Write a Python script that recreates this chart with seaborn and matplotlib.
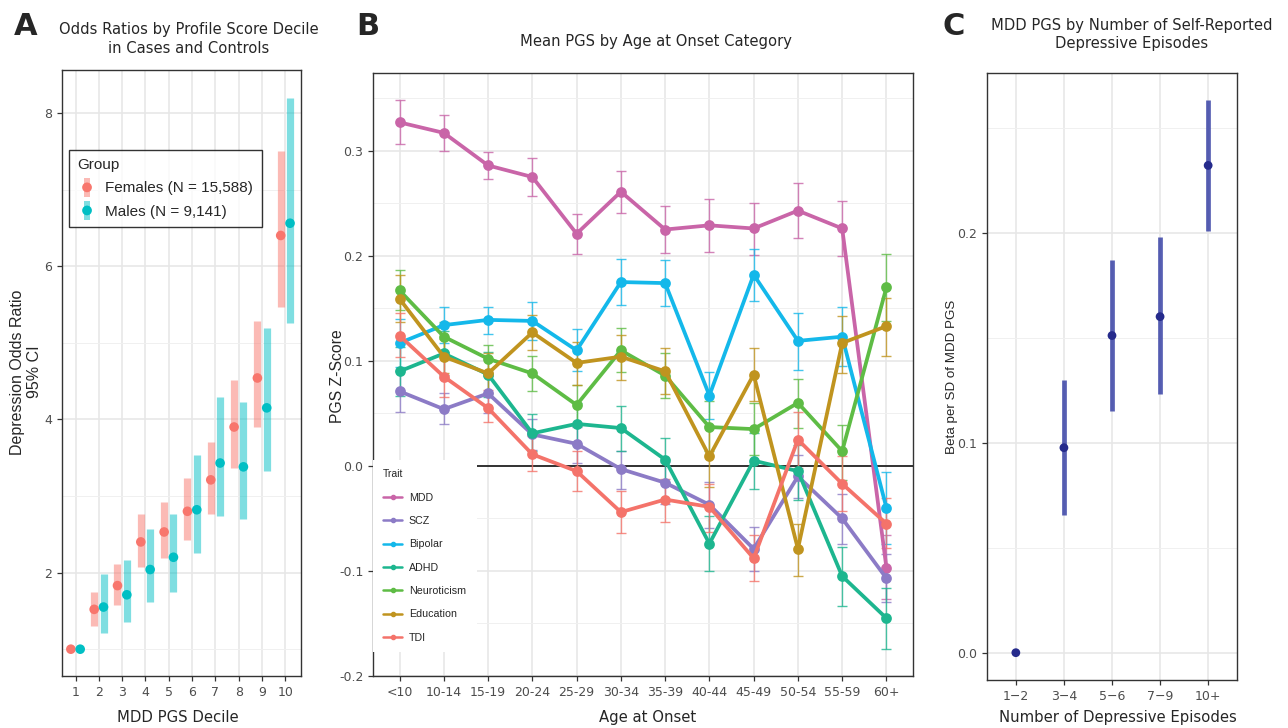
import numpy as np
import pandas as pd
import matplotlib
matplotlib.use("Agg")
import matplotlib.pyplot as plt
import seaborn as sns
from matplotlib.lines import Line2D
from matplotlib.patches import Rectangle, Ellipse, Patch
from matplotlib.legend_handler import HandlerBase
from matplotlib.ticker import FixedLocator

# ---------------- Panel A data ----------------
deciles = [1, 2, 3, 4, 5, 6, 7, 8, 9, 10]
fem_or = [1.0, 1.52, 1.83, 2.40, 2.53, 2.80, 3.21, 3.90, 4.54, 6.40]
fem_lo = [1.0, 1.30, 1.58, 2.07, 2.19, 2.43, 2.77, 3.36, 3.90, 5.47]
fem_hi = [1.0, 1.74, 2.11, 2.76, 2.92, 3.24, 3.71, 4.52, 5.28, 7.50]
male_or = [1.0, 1.55, 1.71, 2.04, 2.20, 2.82, 3.43, 3.38, 4.15, 6.56]
male_lo = [1.0, 1.21, 1.36, 1.62, 1.74, 2.25, 2.74, 2.70, 3.33, 5.26]
male_hi = [1.0, 1.98, 2.17, 2.57, 2.76, 3.54, 4.29, 4.23, 5.19, 8.20]
groups = ["Females (N = 15,588)", "Males (N = 9,141)"]

# ---------------- Panel B data ----------------
ages = ['<10', '10-14', '15-19', '20-24', '25-29', '30-34', '35-39',
        '40-44', '45-49', '50-54', '55-59', '60+']
traits = ['MDD', 'SCZ', 'Bipolar', 'ADHD', 'Neuroticism', 'Education', 'TDI']

mdd_mean = [0.327, 0.317, 0.286, 0.275, 0.221, 0.261, 0.225, 0.229, 0.226, 0.243, 0.226, -0.097]
mdd_lo = [0.306, 0.300, 0.273, 0.257, 0.202, 0.241, 0.203, 0.204, 0.201, 0.217, 0.200, -0.127]
mdd_hi = [0.348, 0.334, 0.299, 0.293, 0.240, 0.281, 0.247, 0.254, 0.250, 0.269, 0.252, -0.066]

scz_mean = [0.071, 0.054, 0.069, 0.030, 0.021, -0.003, -0.016, -0.037, -0.079, -0.010, -0.050, -0.107]
scz_lo = [0.051, 0.040, 0.050, 0.015, 0.003, -0.022, -0.036, -0.059, -0.100, -0.031, -0.074, -0.130]
scz_hi = [0.090, 0.069, 0.086, 0.045, 0.037, 0.014, 0.004, -0.015, -0.058, 0.010, -0.027, -0.084]

bip_mean = [0.117, 0.134, 0.139, 0.138, 0.110, 0.175, 0.174, 0.067, 0.182, 0.119, 0.123, -0.040]
bip_lo = [0.094, 0.117, 0.126, 0.120, 0.090, 0.153, 0.152, 0.045, 0.157, 0.091, 0.095, -0.074]
bip_hi = [0.140, 0.151, 0.151, 0.156, 0.130, 0.197, 0.196, 0.089, 0.206, 0.146, 0.151, -0.006]

adhd_mean = [0.090, 0.107, 0.087, 0.031, 0.040, 0.036, 0.006, -0.074, 0.005, -0.005, -0.105, -0.145]
adhd_lo = [0.067, 0.087, 0.066, 0.014, 0.020, 0.014, -0.015, -0.100, -0.022, -0.032, -0.133, -0.174]
adhd_hi = [0.113, 0.128, 0.108, 0.049, 0.060, 0.057, 0.027, -0.048, 0.031, 0.020, -0.077, -0.116]

neu_mean = [0.167, 0.123, 0.102, 0.088, 0.058, 0.110, 0.086, 0.037, 0.035, 0.060, 0.014, 0.170]
neu_lo = [0.148, 0.108, 0.088, 0.071, 0.038, 0.089, 0.065, 0.014, 0.010, 0.036, -0.013, 0.138]
neu_hi = [0.186, 0.137, 0.115, 0.105, 0.077, 0.131, 0.107, 0.062, 0.060, 0.083, 0.039, 0.202]

edu_mean = [0.159, 0.104, 0.088, 0.127, 0.098, 0.104, 0.090, 0.009, 0.087, -0.079, 0.117, 0.133]
edu_lo = [0.137, 0.088, 0.069, 0.110, 0.077, 0.082, 0.068, -0.020, 0.062, -0.105, 0.088, 0.105]
edu_hi = [0.182, 0.121, 0.107, 0.144, 0.118, 0.125, 0.112, 0.038, 0.112, -0.055, 0.143, 0.160]

tdi_mean = [0.124, 0.085, 0.055, 0.011, -0.005, -0.044, -0.032, -0.039, -0.088, 0.025, -0.017, -0.055]
tdi_lo = [0.104, 0.066, 0.042, -0.005, -0.024, -0.064, -0.053, -0.063, -0.110, -0.002, -0.043, -0.078]
tdi_hi = [0.146, 0.105, 0.072, 0.028, 0.014, -0.024, -0.012, -0.017, -0.066, 0.051, 0.009, -0.031]

# ---------------- Panel C data ----------------
episodes = ['1\u22122', '3\u22124', '5\u22126', '7\u22129', '10+']
beta = [0.0, 0.0976, 0.151, 0.160, 0.232]
beta_lo = [0.0, 0.0654, 0.115, 0.123, 0.201]
beta_hi = [0.0, 0.130, 0.187, 0.198, 0.263]

# ---------------- styling ----------------
sns.set_theme(style="white")
plt.rcParams['font.family'] = ['DejaVu Sans']

W, H = 1288, 728
fig = plt.figure(figsize=(W / 100, H / 100), dpi=100)


def px_axes(left, top, right, bottom):
    return fig.add_axes([left / W, 1 - bottom / H, (right - left) / W, (bottom - top) / H])


def style(ax, yminor):
    for s in ax.spines.values():
        s.set_visible(True)
        s.set_color('#333333')
        s.set_linewidth(1.0)
    ax.set_axisbelow(True)
    ax.yaxis.set_minor_locator(FixedLocator(yminor))
    ax.grid(which='major', color='#E6E6E6', lw=1.1)
    ax.grid(which='minor', axis='y', color='#F0F0F0', lw=0.7)
    ax.tick_params(which='major', length=3.5, width=0.9, color='#333333',
                   labelcolor='#4D4D4D', labelsize=9, direction='out',
                   bottom=True, left=True)
    ax.tick_params(which='minor', length=0)
    ax.set_xlabel('')
    ax.set_ylabel('')


def ftext(x, y, s, **kw):
    return fig.text(x / W, 1 - y / H, s, **kw)


class BarPointHandler(HandlerBase):
    """Legend key: translucent vertical CI bar with a point on top."""
    def create_artists(self, legend, orig_handle, xdescent, ydescent,
                       width, height, fontsize, trans):
        c = orig_handle.get_facecolor()
        cx = width / 2 - xdescent
        cy = height / 2 - ydescent
        bw, bh = 5.0, 13.5
        bar = Rectangle((cx - bw / 2, cy - bh / 2), bw, bh, facecolor=c[:3],
                        alpha=0.5, edgecolor='none', transform=trans)
        pt = Ellipse((cx, cy), 7.0, 7.0, facecolor=c[:3], edgecolor='none',
                     transform=trans)
        return [bar, pt]


axA = px_axes(62, 70, 301, 676)
axB = px_axes(373, 73, 913, 676)
axC = px_axes(987, 73, 1237, 680)

# ---------------- Panel A ----------------
col_f, col_m = '#F8766D', '#00BFC4'
dodge = 0.2
dec = np.array(deciles, dtype=float)
axA.vlines(dec - dodge, fem_lo, fem_hi, colors=col_f, alpha=0.5, lw=5.2,
           capstyle='butt', zorder=2)
axA.vlines(dec + dodge, male_lo, male_hi, colors=col_m, alpha=0.5, lw=5.2,
           capstyle='butt', zorder=2)
dfA = pd.DataFrame({
    'x': np.concatenate([dec - dodge, dec + dodge]),
    'OR': fem_or + male_or,
    'Group': [groups[0]] * len(deciles) + [groups[1]] * len(deciles),
})
sns.scatterplot(data=dfA, x='x', y='OR', hue='Group', hue_order=groups,
                palette=[col_f, col_m], s=48, edgecolor='none', linewidth=0,
                legend=False, ax=axA, zorder=3)
axA.set_xlim(0.42, 10.67)
axA.set_ylim(0.65, 8.56)
axA.set_xticks(deciles)
axA.set_yticks([2, 4, 6, 8])
style(axA, [1, 3, 5, 7])

hA = [Patch(facecolor=col_f), Patch(facecolor=col_m)]
legA = axA.legend(hA, groups, title='Group', loc='upper left',
                  handler_map={Patch: BarPointHandler()},
                  bbox_to_anchor=(0.028, 0.868), frameon=True, fancybox=False,
                  prop={'family': 'Liberation Sans', 'size': 11},
                  title_fontproperties={'family': 'Liberation Sans', 'size': 11},
                  alignment='left', borderpad=0.55, labelspacing=0.45,
                  handletextpad=0.55, handlelength=1.3, handleheight=1.25,
                  borderaxespad=0)
legA.get_frame().set_edgecolor('black')
legA.get_frame().set_linewidth(1.0)

# ---------------- Panel B ----------------
colorsB = {'MDD': '#C965A8', 'SCZ': '#8C7BC6', 'Bipolar': '#14B8EA',
           'ADHD': '#1DB68F', 'Neuroticism': '#5EBC45', 'Education': '#C0941F',
           'TDI': '#F4736A'}
meansB = {'MDD': mdd_mean, 'SCZ': scz_mean, 'Bipolar': bip_mean, 'ADHD': adhd_mean,
          'Neuroticism': neu_mean, 'Education': edu_mean, 'TDI': tdi_mean}
losB = {'MDD': mdd_lo, 'SCZ': scz_lo, 'Bipolar': bip_lo, 'ADHD': adhd_lo,
        'Neuroticism': neu_lo, 'Education': edu_lo, 'TDI': tdi_lo}
hisB = {'MDD': mdd_hi, 'SCZ': scz_hi, 'Bipolar': bip_hi, 'ADHD': adhd_hi,
        'Neuroticism': neu_hi, 'Education': edu_hi, 'TDI': tdi_hi}

rows = []
for t in traits:
    for a, m in zip(ages, meansB[t]):
        rows.append({'age': a, 'z': m, 'trait': t})
dfB = pd.DataFrame(rows)

axB.axhline(0, color='black', lw=1.1, zorder=1.6)
xpos = np.arange(len(ages))
for t in traits:
    m = np.array(meansB[t]); lo = np.array(losB[t]); hi = np.array(hisB[t])
    axB.errorbar(xpos, m, yerr=[m - lo, hi - m], fmt='none', ecolor=colorsB[t],
                 elinewidth=1.0, capsize=3.8, capthick=1.0, alpha=0.8, zorder=1.8)
sns.pointplot(data=dfB, x='age', y='z', hue='trait', order=ages, hue_order=traits,
              palette=colorsB, errorbar=None, markers='o', markersize=5.7,
              linewidth=2.7, legend=False, ax=axB)
axB.set_xlim(-0.6, 11.6)
axB.set_ylim(-0.2, 0.374)
axB.set_yticks([-0.2, -0.1, 0.0, 0.1, 0.2, 0.3])
axB.set_yticklabels(['-0.2', '-0.1', '0.0', '0.1', '0.2', '0.3'])
style(axB, [-0.15, -0.05, 0.05, 0.15, 0.25, 0.35])
axB.xaxis.grid(True, which='major', color='#E6E6E6', lw=1.1)

# legend box (white) covering lower-left
axB.add_patch(Rectangle((0, 0.04), 0.193, 0.318, transform=axB.transAxes,
                        facecolor='white', edgecolor='none', zorder=5))
hB = [Line2D([0], [0], color=colorsB[t], lw=1.8, marker='o', markersize=3)
      for t in traits]
legB = axB.legend(hB, traits, title='Trait', loc='upper left',
                  bbox_to_anchor=(0.003, 0.357), frameon=False,
                  prop={'family': 'Liberation Sans', 'size': 7.7},
                  title_fontproperties={'family': 'Liberation Sans', 'size': 7.5},
                  alignment='left', labelspacing=1.25, handletextpad=0.6,
                  handlelength=1.8, borderpad=0.3)
legB.set_zorder(6)

# ---------------- Panel C ----------------
xc = np.arange(len(episodes))
axC.vlines(xc, beta_lo, beta_hi, colors='#3A43A6', alpha=0.85, lw=3.4,
           capstyle='butt', zorder=2)
dfC = pd.DataFrame({'x': xc, 'beta': beta})
sns.scatterplot(data=dfC, x='x', y='beta', color='#262B8C', s=40,
                edgecolor='none', linewidth=0, ax=axC, zorder=3)
axC.set_xlim(-0.6, 4.6)
axC.set_ylim(-0.013, 0.276)
axC.set_xticks(xc)
axC.set_xticklabels(episodes)
axC.set_yticks([0.0, 0.1, 0.2])
style(axC, [0.05, 0.15, 0.25])

# ---------------- texts ----------------
for lab, x in (('A', 14), ('B', 356), ('C', 942)):
    ftext(x, 35, lab, fontsize=22, fontweight='bold', va='baseline', ha='left')

ftext(189, 34, 'Odds Ratios by Profile Score Decile', fontsize=10.6, ha='center', va='baseline')
ftext(189, 53, 'in Cases and Controls', fontsize=10.6, ha='center', va='baseline')
ftext(656, 46, 'Mean PGS by Age at Onset Category', fontsize=10.6, ha='center', va='baseline')
ftext(1132, 30, 'MDD PGS by Number of Self-Reported', fontsize=10.6, ha='center', va='baseline')
ftext(1132, 48, 'Depressive Episodes', fontsize=10.6, ha='center', va='baseline')

ftext(178, 722, 'MDD PGS Decile', fontsize=10.7, ha='center', va='baseline')
ftext(648, 722, 'Age at Onset', fontsize=10.7, ha='center', va='baseline')
ftext(1118, 722, 'Number of Depressive Episodes', fontsize=10.7, ha='center', va='baseline')

ftext(26, 372, 'Depression Odds Ratio\n95% CI', fontsize=11.5, family='Liberation Sans',
      rotation=90, ha='center', va='center', multialignment='center', linespacing=1.1)
ftext(337, 376, 'PGS Z-Score', fontsize=11.3, family='Liberation Sans',
      rotation=90, ha='center', va='center')
ftext(952, 377, 'Beta per SD of MDD PGS', fontsize=9.6, family='Liberation Sans',
      rotation=90, ha='center', va='center')

fig.savefig('out.png', dpi=100)
